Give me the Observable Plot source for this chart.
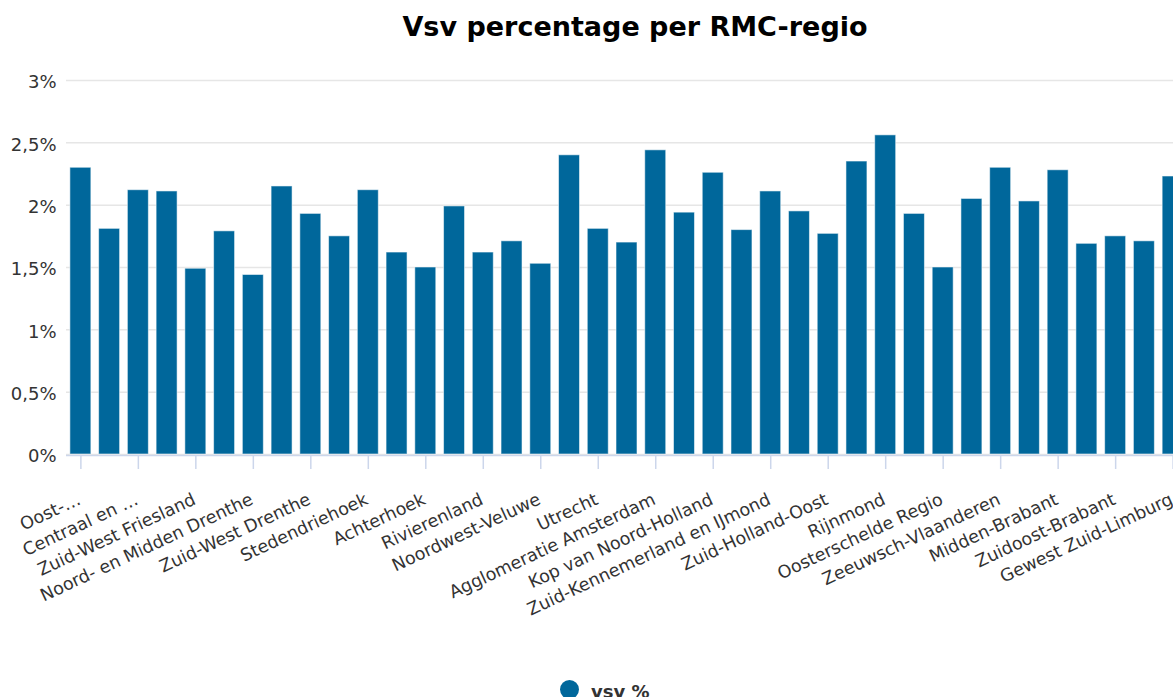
<!DOCTYPE html>
<html>
<head>
<meta charset="utf-8">
<script src="https://cdn.jsdelivr.net/npm/d3@7"></script>
<script src="https://cdn.jsdelivr.net/npm/@observablehq/plot@0.6"></script>
<style>
  html, body { margin: 0; padding: 0; background: #fff; overflow: hidden; }
  #wrap { position: relative; width: 1270px; height: 697px; font-family: "DejaVu Sans", Verdana, sans-serif; }
  #title { width: 1270px; height: 53px; line-height: 53px; text-align: center; font-weight: bold; font-size: 27px; color: #000; }
  #chart svg { display: block; }
  #legend { position: absolute; left: 560px; top: 680px; height: 22px; font-weight: bold; font-size: 18px; color: #333; white-space: nowrap; }
  #legend .dot { position: absolute; left: 0; top: 0; width: 19px; height: 19px; border-radius: 50%; background: #00679b; }
  #legend .lbl { position: absolute; left: 31px; top: 1px; line-height: normal; }
</style>
</head>
<body>
<div id="wrap">
  <div id="title">Vsv percentage per RMC-regio</div>
  <div id="chart"></div>
  <div id="legend"><span class="dot"></span><span class="lbl">vsv %</span></div>
</div>
<script>
// RMC regions in chart order
const regions = [
  "Oost-Groningen", "Noord-Groningen-Eemsmond", "Centraal en Westelijk Groningen", "Friesland Noord",
  "Zuid-West Friesland", "Friesland Oost", "Noord- en Midden Drenthe", "Zuid-Oost Drenthe",
  "Zuid-West Drenthe", "IJssel-Vecht", "Stedendriehoek", "Twente",
  "Achterhoek", "Arnhem/Nijmegen", "Rivierenland", "Eem en Vallei",
  "Noordwest-Veluwe", "Flevoland", "Utrecht", "Het Gooi en Vechtstreek",
  "Agglomeratie Amsterdam", "West-Kennemerland", "Kop van Noord-Holland", "West-Friesland",
  "Zuid-Kennemerland en IJmond", "Holland Rijnland", "Zuid-Holland-Oost", "Haaglanden",
  "Rijnmond", "Zuid-Holland-Zuid", "Oosterschelde Regio", "Walcheren",
  "Zeeuwsch-Vlaanderen", "West-Brabant", "Midden-Brabant", "Noordoost-Brabant",
  "Zuidoost-Brabant", "Midden-Limburg", "Gewest Zuid-Limburg"
];

// vsv percentage per region
const vsvPct = [
  2.30, 1.81, 2.12, 2.11, 1.49, 1.79, 1.44, 2.15, 1.93, 1.75,
  2.12, 1.62, 1.50, 1.99, 1.62, 1.71, 1.53, 2.40, 1.81, 1.70,
  2.44, 1.94, 2.26, 1.80, 2.11, 1.95, 1.77, 2.35, 2.56, 1.93,
  1.50, 2.05, 2.30, 2.03, 2.28, 1.69, 1.75, 1.71, 2.23
];

// categories that carry a visible tick label, and the text shown
const labeledRegions = [
  "Oost-Groningen", "Centraal en Westelijk Groningen", "Zuid-West Friesland", "Noord- en Midden Drenthe",
  "Zuid-West Drenthe", "Stedendriehoek", "Achterhoek", "Rivierenland", "Noordwest-Veluwe", "Utrecht",
  "Agglomeratie Amsterdam", "Kop van Noord-Holland", "Zuid-Kennemerland en IJmond", "Zuid-Holland-Oost",
  "Rijnmond", "Oosterschelde Regio", "Zeeuwsch-Vlaanderen", "Midden-Brabant", "Zuidoost-Brabant",
  "Gewest Zuid-Limburg"
];
const tickLabels = [
  "Oost-…", "Centraal en …", "Zuid-West Friesland", "Noord- en Midden Drenthe",
  "Zuid-West Drenthe", "Stedendriehoek", "Achterhoek", "Rivierenland", "Noordwest-Veluwe", "Utrecht",
  "Agglomeratie Amsterdam", "Kop van Noord-Holland", "Zuid-Kennemerland en IJmond", "Zuid-Holland-Oost",
  "Rijnmond", "Oosterschelde Regio", "Zeeuwsch-Vlaanderen", "Midden-Brabant", "Zuidoost-Brabant",
  "Gewest Zuid-Limburg"
];

// y-axis ticks (percent)
const yTicks = [0, 0.5, 1, 1.5, 2, 2.5, 3];

const data = regions.map((r, i) => ({region: r, vsv: vsvPct[i]}));
const tickRows = labeledRegions.map((r, i) => ({region: r, label: tickLabels[i]}));
const fmtPct = d => String(d).replace(".", ",") + "%";

const chart = Plot.plot({
  width: 1190,
  height: 571,
  marginTop: 27,
  marginLeft: 66,
  marginRight: 3,
  marginBottom: 170,
  style: {
    fontFamily: '"DejaVu Sans", Verdana, sans-serif',
    fontSize: "17.5px",
    color: "#333",
    background: "#fff",
    overflow: "visible"
  },
  x: {domain: regions, paddingInner: 0.27, paddingOuter: 0.135, round: false, axis: null},
  y: {domain: [0, 3], axis: null},
  marks: [
    Plot.gridY(yTicks, {stroke: "#e6e6e6", strokeOpacity: 1, strokeWidth: 1.5}),
    Plot.axisY(yTicks, {tickSize: 0, tickPadding: 10, tickFormat: fmtPct, fill: "#333", dy: 2, fontSize: 18, label: null}),
    Plot.barY(data, {x: "region", y: "vsv", fill: "#00679b", stroke: "#ffffff", strokeOpacity: 0.55, strokeWidth: 1}),
    Plot.ruleY([0], {stroke: "#ccd6eb", strokeWidth: 1.5, dy: 1}),
    Plot.axisX(labeledRegions, {tickSize: 14, stroke: "#ccd6eb", strokeWidth: 1.5, tickFormat: () => "", dy: 1, label: null}),
    Plot.text(tickRows, {
      x: "region", text: "label", frameAnchor: "bottom",
      textAnchor: "end", lineAnchor: "bottom", rotate: -25,
      dx: 1, dy: 49, fill: "#333", fontSize: 17.5
    })
  ]
});
document.getElementById("chart").appendChild(chart);
</script>
</body>
</html>
